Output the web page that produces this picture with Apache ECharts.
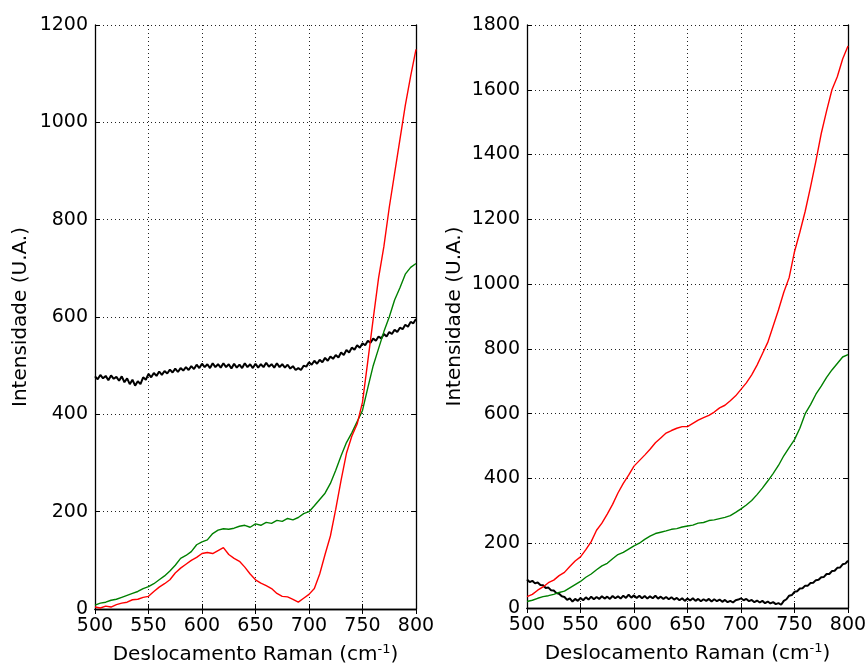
<!DOCTYPE html>
<html>
<head>
<meta charset="utf-8">
<script src="https://cdn.jsdelivr.net/npm/echarts@6/dist/echarts.min.js"></script>
<style>
  html, body { margin: 0; padding: 0; background: #fff; }
  #chart { width: 868px; height: 666px; }
</style>
</head>
<body>
<div id="chart"></div>
<script>
// Raman shift grids (cm^-1): 5 cm^-1 steps for the smooth traces, 2.5 for the noisy ones
const shift5 = [];
for (let x = 500; x <= 800; x += 5) shift5.push(x);
const shift25 = [];
for (let i = 0; i <= 120; i++) shift25.push(500 + i * 2.5);

// ---- Left panel (0–1200) ----
const leftBlack = [
  478, 472, 481, 474, 479, 470, 480, 473, 477, 469, 478, 466, 474, 462, 471, 459, 468, 462, 476, 471,
  483, 476, 485, 479, 488, 481, 489, 484, 492, 486, 494, 487, 495, 490, 497, 491, 499, 493, 502, 495,
  504, 497, 503, 495, 505, 497, 503, 496, 505, 497, 503, 494, 504, 496, 502, 495, 505, 497, 503, 495,
  504, 496, 503, 497, 506, 498, 503, 496, 505, 497, 503, 496, 502, 494, 499, 491, 495, 491, 500, 498,
  507, 502, 510, 504, 512, 507, 516, 510, 519, 514, 522, 517, 527, 522, 532, 527, 537, 533, 542, 537,
  546, 542, 551, 547, 556, 551, 560, 556, 565, 560, 569, 565, 574, 569, 578, 575, 584, 580, 590, 587,
  596
];
const leftRed = [
  4, 2, 6, 4, 9, 12, 14, 19, 20, 24,
  26, 36, 45, 52, 60, 74, 84, 92, 100, 106,
  114, 116, 114, 120, 126, 112, 104, 98, 86, 72,
  60, 53, 48, 42, 32, 26, 25, 20, 14, 22,
  30, 42, 72, 112, 150, 205, 265, 320, 355, 380,
  425, 510, 596, 680, 745, 825, 895, 965, 1035, 1095,
  1150
];
const leftGreen = [
  8, 12, 14, 18, 20, 24, 28, 32, 36, 42,
  46, 52, 60, 68, 78, 90, 104, 110, 118, 132,
  138, 142, 155, 162, 165, 164, 166, 170, 172, 168,
  175, 172, 178, 176, 182, 180, 186, 183, 188, 196,
  200, 212, 225, 238, 258, 285, 315, 342, 362, 385,
  408, 455, 500, 535, 570, 600, 635, 660, 688, 702,
  710
];

// ---- Right panel (0–1800) ----
const rightBlack = [
  88, 80, 84, 76, 79, 71, 70, 62, 63, 55, 54, 46, 44, 36, 34, 25, 30, 20, 28, 22,
  31, 24, 33, 26, 35, 27, 34, 28, 36, 29, 35, 28, 37, 30, 36, 29, 38, 31, 41, 32,
  39, 31, 38, 30, 37, 29, 36, 30, 38, 29, 35, 28, 34, 27, 33, 26, 31, 24, 30, 22,
  29, 23, 30, 22, 28, 21, 27, 22, 28, 20, 27, 21, 26, 19, 25, 18, 22, 17, 24, 26,
  30, 24, 28, 21, 25, 18, 23, 17, 22, 15, 20, 14, 18, 12, 15, 10, 22, 27, 38, 40,
  50, 52, 60, 61, 69, 69, 77, 78, 86, 87, 95, 96, 105, 105, 114, 115, 124, 125, 135, 137,
  146
];
const rightRed = [
  35, 42, 55, 65, 78, 86, 100, 110, 128, 145,
  158, 180, 205, 240, 262, 290, 320, 355, 385, 410,
  438, 455, 472, 490, 510, 525, 540, 548, 555, 560,
  560, 570, 580, 588, 595, 605, 618, 626, 640, 655,
  675, 695, 720, 750, 785, 820, 870, 920, 975, 1020,
  1100, 1160, 1225, 1300, 1380, 1465, 1535, 1600, 1640, 1695,
  1735
];
const rightGreen = [
  20, 24, 30, 35, 38, 42, 48, 52, 62, 72,
  82, 95, 105, 118, 130, 138, 152, 165, 172, 182,
  192, 200, 212, 222, 230, 234, 238, 243, 245, 250,
  253, 256, 262, 264, 270, 272, 276, 280, 285, 295,
  306, 318, 332, 350, 370, 392, 415, 440, 470, 495,
  520, 555, 600, 628, 660, 685, 712, 735, 755, 775,
  782
];

const pair = (xs, ys) => ys.map((y, i) => [xs[i], y]);

const FONT = 'DejaVu Sans';
const frame = { show: true, lineStyle: { color: '#000', width: 1.3 } };
const tickIn = { show: true, inside: true, length: 5, lineStyle: { color: '#000', width: 1 } };
const gridLine = { show: true, lineStyle: { color: '#222', type: [1, 3], width: 1 } };
const tickFont = { fontFamily: FONT, fontSize: 19, color: '#000', formatter: v => String(v) };

function xAxesFor(gridIndex) {
  return [
    {
      gridIndex, type: 'value', min: 500, max: 800, interval: 50, position: 'bottom',
      axisLine: frame, axisTick: tickIn, splitLine: gridLine,
      axisLabel: Object.assign({ margin: 8 }, tickFont),
      name: 'Deslocamento Raman (cm{sup|-1})', nameLocation: 'middle', nameGap: 34,
      nameTextStyle: {
        fontFamily: FONT, fontSize: 20, color: '#000',
        rich: { sup: { fontFamily: FONT, fontSize: 13, color: '#000', verticalAlign: 'top', padding: [0, 0, 10, 0] } }
      }
    },
    {
      gridIndex, type: 'value', min: 500, max: 800, interval: 50, position: 'top',
      axisLine: frame, axisTick: tickIn, splitLine: { show: false }, axisLabel: { show: false }
    }
  ];
}

function yAxesFor(gridIndex, max, nameGap) {
  return [
    {
      gridIndex, type: 'value', min: 0, max, interval: 200, position: 'left',
      axisLine: frame, axisTick: tickIn, splitLine: gridLine,
      axisLabel: Object.assign({ margin: 7 }, tickFont),
      name: 'Intensidade (U.A.)', nameLocation: 'middle', nameGap,
      nameTextStyle: { fontFamily: FONT, fontSize: 20, color: '#000' }
    },
    {
      gridIndex, type: 'value', min: 0, max, interval: 200, position: 'right',
      axisLine: frame, axisTick: tickIn, splitLine: { show: false }, axisLabel: { show: false }
    }
  ];
}

function trace(data, color, xi, yi, width) {
  return {
    type: 'line', data, xAxisIndex: xi, yAxisIndex: yi,
    showSymbol: false, symbol: 'none', silent: true, animation: false,
    lineStyle: { color, width: width || 1.4 }, z: 3
  };
}

const chart = echarts.init(document.getElementById('chart'), null, { renderer: 'canvas' });
chart.setOption({
  backgroundColor: '#fff',
  animation: false,
  grid: [
    { left: 95, top: 25, width: 321, height: 584, containLabel: false, outerBoundsMode: 'none' },
    { left: 527, top: 25, width: 321, height: 583, containLabel: false, outerBoundsMode: 'none' }
  ],
  xAxis: [...xAxesFor(0), ...xAxesFor(1)],
  yAxis: [...yAxesFor(0, 1200, 64), ...yAxesFor(1, 1800, 62)],
  series: [
    trace(pair(shift25, leftBlack), '#000000', 0, 0, 2),
    trace(pair(shift5, leftGreen), '#008000', 0, 0),
    trace(pair(shift5, leftRed), '#ff0000', 0, 0),
    trace(pair(shift25, rightBlack), '#000000', 2, 2, 2),
    trace(pair(shift5, rightGreen), '#008000', 2, 2),
    trace(pair(shift5, rightRed), '#ff0000', 2, 2)
  ]
});
</script>
</body>
</html>
